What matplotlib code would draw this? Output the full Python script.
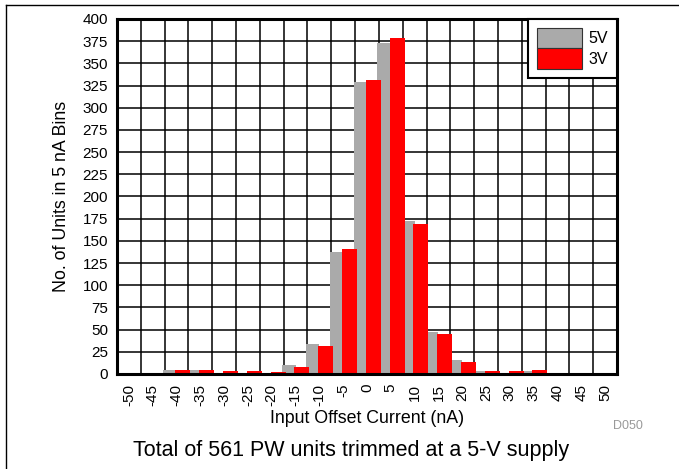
import numpy as np
import matplotlib.pyplot as plt
from matplotlib.patches import Patch
from matplotlib.lines import Line2D

plt.rcParams['font.family'] = ['Liberation Sans', 'DejaVu Sans']

# 5 nA bins of input offset current
bins = [-50, -45, -40, -35, -30, -25, -20, -15, -10, -5, 0,
        5, 10, 15, 20, 25, 30, 35, 40, 45, 50]
units_5v = [0, 1, 4, 4, 0, 1, 0, 10, 34, 137, 329,
            373, 172, 47, 16, 3, 1, 3, 0, 0, 0]
units_3v = [0, 0, 5, 5, 3, 3, 2, 8, 32, 141, 331,
            379, 169, 45, 14, 3, 3, 4, 0, 0, 0]

GRAY = '#aaaaaa'
RED = '#ff0000'

fig = plt.figure(figsize=(6.79, 4.69), dpi=100)
ax = fig.add_axes([0.1723, 0.2026, 0.7364, 0.7569])

idx = np.arange(len(bins))
ax.bar(idx - 0.56, units_5v, width=0.56, align='edge', color=GRAY, zorder=2)
ax.bar(idx - 0.05, units_3v, width=0.63, align='edge', color=RED, zorder=3)

ax.set_xlim(-0.5, len(bins) - 0.5)
ax.set_ylim(0, 400)
ax.set_yticks(np.arange(0, 401, 25))
ax.set_xticks(idx)
ax.set_xticklabels([str(b) for b in bins], rotation=90)
ax.set_xticks(idx[:-1] + 0.5, minor=True)

ax.tick_params(axis='both', which='both', length=0, labelsize=11)
ax.tick_params(axis='y', pad=6.5)
ax.tick_params(axis='x', pad=7)

ax.grid(True, which='minor', axis='x', color='black', linewidth=1.1)
ax.grid(True, which='major', axis='y', color='black', linewidth=1.1)
ax.set_axisbelow(True)
for s in ax.spines.values():
    s.set_linewidth(2.2)
    s.set_zorder(5)

ax.set_ylabel('No. of Units in 5 nA Bins', fontsize=12.8, labelpad=9)
ax.set_xlabel('Input Offset Current (nA)', fontsize=12.8, labelpad=3)

handles = [Patch(facecolor=GRAY, edgecolor='#333333', linewidth=0.8, label='5V'),
           Patch(facecolor=RED, edgecolor='#333333', linewidth=0.8, label='3V')]
leg = ax.legend(handles=handles, loc='upper right', borderaxespad=0,
                fontsize=11.5, handlelength=2.8, handleheight=1.6,
                labelspacing=0, handletextpad=0.45, borderpad=0.55,
                fancybox=False, framealpha=1)
leg.get_frame().set_edgecolor('black')
leg.get_frame().set_linewidth(1.5)
leg.set_zorder(6)

fig.text(628 / 679, 1 - 426 / 469, 'D050', fontsize=9, color='#999999',
         ha='center', va='center')
fig.text(351 / 679, 1 - 450 / 469, 'Total of 561 PW units trimmed at a 5-V supply',
         fontsize=15.5, ha='center', va='center')

# outer frame (left and top edges)
fig.add_artist(Line2D([6 / 679, 6 / 679], [0, 1 - 5 / 469], color='black', linewidth=1.0))
fig.add_artist(Line2D([6 / 679, 1], [1 - 5 / 469, 1 - 5 / 469], color='black', linewidth=1.0))

fig.savefig('out.png', dpi=100)
